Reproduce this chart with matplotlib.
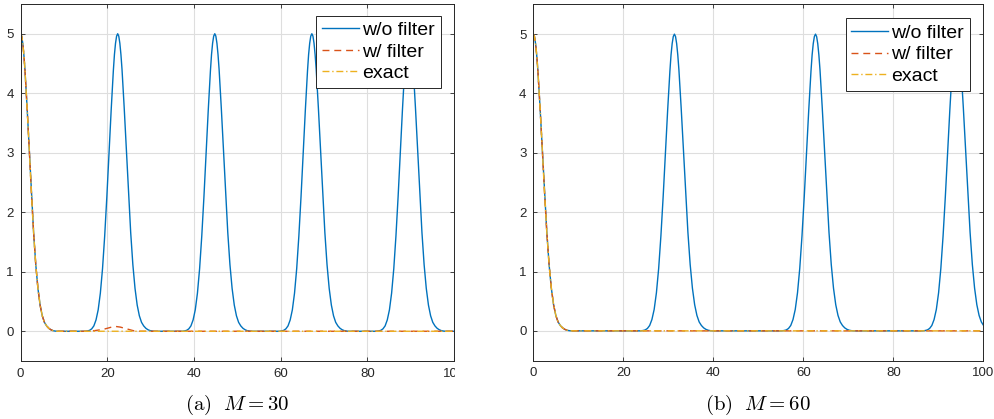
import matplotlib
matplotlib.use("Agg")
import matplotlib.pyplot as plt
import numpy as np
from matplotlib.transforms import Bbox, TransformedBbox

plt.rcParams['font.family'] = ['Liberation Sans', 'DejaVu Sans']
plt.rcParams['mathtext.fontset'] = 'cm'

# one pulse (offset from its centre, height)
pulse_dx = [-8, -7.5, -7, -6.5, -6, -5.5, -5, -4.5, -4, -3.5, -3, -2.5, -2, -1.5, -1, -0.75, -0.5, -0.25,
            0, 0.25, 0.5, 0.75, 1, 1.5, 2, 2.5, 3, 3.5, 4, 4.5, 5, 5.5, 6, 6.5, 7, 7.5, 8, 8.5]
pulse_y = [0, 0, 0.005, 0.015, 0.04, 0.09, 0.19, 0.36, 0.64, 1.05, 1.6, 2.26, 3.0, 3.72, 4.38, 4.65, 4.84, 4.96,
           5.0, 4.96, 4.84, 4.65, 4.4, 3.76, 3.05, 2.32, 1.66, 1.12, 0.72, 0.44, 0.26, 0.15, 0.09, 0.05, 0.025, 0.01, 0.003, 0]

# decay from x=0 (same for all three curves)
start_x = [0, 0.25, 0.5, 0.75, 1, 1.5, 2, 2.5, 3, 3.5, 4, 4.5, 5, 5.5, 6, 6.5, 7, 7.5, 8, 8.5]
start_y = [5.0, 4.96, 4.84, 4.65, 4.4, 3.76, 3.05, 2.32, 1.66, 1.12, 0.72, 0.44, 0.26, 0.15, 0.09, 0.05, 0.025, 0.01, 0.003, 0]

# peak centres of the unfiltered solution
peaks_a = [22.4, 44.8, 67.2, 89.6]     # M = 30
peaks_b = [31.35, 62.7, 94.05]         # M = 60

# small bump left in the filtered solution, M = 30
bump_x = [16, 17, 18, 19, 20, 21, 22, 23, 24, 25, 26, 27]
bump_y = [0, 0.01, 0.02, 0.03, 0.05, 0.07, 0.08, 0.07, 0.05, 0.03, 0.01, 0]

xticks = [0, 20, 40, 60, 80, 100]
yticks = [0, 1, 2, 3, 4, 5]
captions = [r'$\mathrm{(a)}\ \ M = 30$', r'$\mathrm{(b)}\ \ M = 60$']

blue = '#0072BD'
red = '#D95319'
yellow = '#EDB120'


def unfiltered(peaks):
    x = list(start_x)
    y = list(start_y)
    for c in peaks:
        x += [c + d for d in pulse_dx]
        y += pulse_y
    if x[-1] < 100:
        x.append(100)
        y.append(0)
    return x, y


def filtered(bump):
    x = list(start_x)
    y = list(start_y)
    if bump:
        x += bump_x
        y += bump_y
    x.append(100)
    y.append(0)
    return x, y


exact_x = start_x + [100]
exact_y = start_y + [0]

fig = plt.figure(figsize=(9.95, 4.19), dpi=100)
positions = [[0.0207, 0.1384, 0.4356, 0.8521],
             [0.536, 0.1396, 0.4523, 0.8497]]
legend_anchor = [(0.969, 0.967), (0.970, 0.961)]

axes = []
for i, peaks in enumerate([peaks_a, peaks_b]):
    ax = fig.add_axes(positions[i])
    bx, by = unfiltered(peaks)
    fx, fy = filtered(i == 0)
    ax.plot(bx, by, color=blue, lw=1.0, label='w/o filter')
    ax.plot(fx, fy, color=red, lw=1.0, ls=(0, (5, 3.5)), label='w/ filter')
    ax.plot(exact_x, exact_y, color=yellow, lw=1.0, ls=(0, (5, 2, 1, 2)), label='exact')

    ax.set_xlim(0, 100)
    ax.set_ylim(-0.5, 5.5)
    ax.set_xticks(xticks)
    ax.set_yticks(yticks)
    ax.tick_params(direction='in', length=3, width=0.6, top=True, right=True,
                   labelsize=9.5, colors='#262626', pad=5)
    ax.grid(True, color='#DEDEDE', lw=0.8)
    ax.set_axisbelow(True)
    for s in ax.spines.values():
        s.set_color('#262626')
        s.set_linewidth(0.7)

    leg = ax.legend(loc='upper right', bbox_to_anchor=legend_anchor[i], fontsize=14,
                    fancybox=False, framealpha=1, edgecolor='#262626',
                    handlelength=1.9, handletextpad=0.15, borderpad=0.3,
                    labelspacing=0.2, borderaxespad=0)
    leg.get_frame().set_linewidth(0.7)

    cx = positions[i][0] + positions[i][2] / 2
    fig.text(cx, 0.033, captions[i], ha='center', va='center', fontsize=15)
    axes.append(ax)

# the last tick label of the first panel is cut off at the panel edge
fig.canvas.draw()
clip = TransformedBbox(Bbox([[0, 0], [0.4575, 1]]), fig.transFigure)
for lab in axes[0].get_xticklabels():
    lab.set_clip_on(True)
    lab.set_clip_box(clip)

fig.savefig('out.png', dpi=100)
